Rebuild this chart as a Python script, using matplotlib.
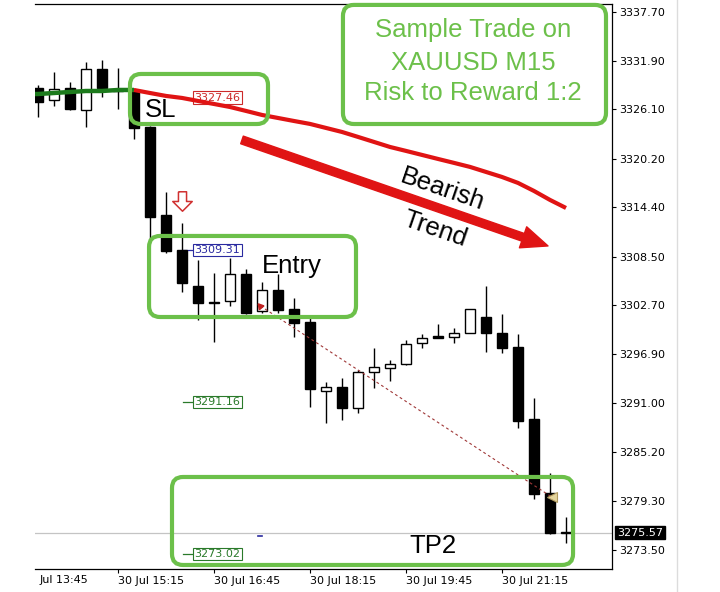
import matplotlib
matplotlib.use("Agg")
import matplotlib.pyplot as plt
import matplotlib.transforms as mtransforms
from matplotlib.patches import FancyBboxPatch, FancyArrowPatch
from matplotlib.path import Path
from matplotlib.lines import Line2D
import numpy as np

# ── chart data (XAUUSD M15, 30 Jul) ─────────────────────────────────────────
# bar 0 is 30 Jul 13:45, one bar per 15 minutes
bar_index = list(range(1, 35))
opens = [3328.63, 3327.20, 3328.63, 3326.01, 3330.90, 3328.27, 3328.39, 3323.98,
         3313.48, 3309.30, 3305.00, 3302.97, 3303.21, 3306.43, 3302.02, 3304.53,
         3302.26, 3300.71, 3292.47, 3292.95, 3290.44, 3294.74, 3295.22, 3295.70,
         3298.20, 3299.00, 3298.92, 3299.39, 3301.30, 3299.39, 3297.72, 3289.13,
         3280.30, 3275.57]
highs = [3328.99, 3330.54, 3329.35, 3331.73, 3331.97, 3331.02, 3328.63, 3324.10,
         3316.22, 3312.52, 3308.11, 3306.55, 3308.34, 3307.03, 3305.48, 3306.43,
         3303.57, 3301.18, 3293.55, 3294.02, 3294.98, 3297.60, 3296.17, 3298.56,
         3299.28, 3300.47, 3299.99, 3302.26, 3305.00, 3301.66, 3299.28, 3291.64,
         3282.69, 3277.44]
lows = [3325.17, 3326.48, 3326.05, 3323.98, 3327.56, 3326.12, 3322.54, 3310.49,
        3308.94, 3304.29, 3300.95, 3298.32, 3302.62, 3301.70, 3301.78, 3301.78,
        3298.92, 3290.56, 3288.65, 3289.01, 3289.85, 3292.83, 3293.67, 3295.58,
        3297.60, 3298.80, 3298.20, 3299.39, 3297.13, 3297.01, 3288.06, 3279.59,
        3275.41, 3274.33]
closes = [3326.96, 3328.51, 3326.12, 3330.90, 3328.63, 3328.39, 3323.86, 3313.24,
          3309.18, 3305.36, 3302.97, 3303.09, 3306.43, 3301.78, 3304.53, 3302.14,
          3300.59, 3292.71, 3292.95, 3290.44, 3294.74, 3295.34, 3295.70, 3298.08,
          3298.80, 3298.80, 3299.39, 3302.26, 3299.39, 3297.60, 3288.89, 3280.18,
          3275.50, 3275.57]

ma_index = list(range(0, 35))
ma_values = [3327.91, 3327.91, 3328.03, 3328.15, 3328.27, 3328.27, 3328.39, 3328.39,
             3328.03, 3327.68, 3327.44, 3327.08, 3326.72, 3326.36, 3325.89, 3325.41,
             3325.05, 3324.69, 3324.34, 3323.86, 3323.38, 3322.79, 3322.19, 3321.59,
             3321.12, 3320.64, 3320.16, 3319.69, 3319.21, 3318.61, 3318.01, 3317.30,
             3316.34, 3315.27, 3314.31]
ma_turn = 7  # MA colour changes from green to red at this bar

price_ticks = [3337.70, 3331.90, 3326.10, 3320.20, 3314.40, 3308.50, 3302.70,
               3296.90, 3291.00, 3285.20, 3279.30, 3273.50]
time_ticks = [6, 12, 18, 24, 30]
time_labels = ["30 Jul 15:15", "30 Jul 16:45", "30 Jul 18:15", "30 Jul 19:45",
               "30 Jul 21:15"]
first_time_label = "Jul 13:45"

sl_price = 3327.46
entry_price = 3309.31
tp1_price = 3291.16
tp2_price = 3273.02
bid_price = 3275.57

signal_bar, signal_price = 10, 3315.15
trade_open = (14.9, 3302.62)
trade_close = (33.1, 3279.83)

GREEN = "#6cc04a"
RED = "#e01414"
LABEL_FONT = ["Liberation Sans", "DejaVu Sans"]


def rounded_box(fig, ax, x0, y0, x1, y1):
    (px0, py0), (px1, py1) = ax.transData.transform([(x0, y0), (x1, y1)])
    box = FancyBboxPatch(
        (px0, min(py0, py1)), px1 - px0, abs(py1 - py0),
        boxstyle="round,pad=0,rounding_size=11",
        fc="none", ec=GREEN, lw=3.0,
        transform=mtransforms.IdentityTransform(),
    )
    fig.add_artist(box)


def level_label(ax, price, text, color):
    ax.plot([10.06, 10.7], [price, price], color=color, lw=0.9)
    ax.text(10.78, price, text, color=color, fontsize=8, ha="left", va="center",
            bbox=dict(boxstyle="square,pad=0.12", fc="white", ec=color, lw=0.8))


fig = plt.figure(figsize=(7.2, 5.92), dpi=100)
ax = fig.add_axes([35 / 720, 1 - 569 / 592, 577 / 720, 565 / 592])
ax.set_xlim(0.8125, 36.875)
ax.set_ylim(3271.23, 3338.65)

# ── candles ────────────────────────────────────────────────────────────────
o = np.array(opens)
c = np.array(closes)
x = np.array(bar_index)
ax.vlines(x, lows, highs, color="black", lw=1.0, zorder=2)
body_low = np.minimum(o, c)
body_h = np.maximum(np.abs(c - o), 0.12)
up = c >= o
ax.bar(x[up], body_h[up], bottom=body_low[up], width=0.62, color="white",
       edgecolor="black", lw=1.0, zorder=3)
ax.bar(x[~up], body_h[~up], bottom=body_low[~up], width=0.62, color="black",
       edgecolor="black", lw=1.0, zorder=3)

# ── moving average ─────────────────────────────────────────────────────────
ax.plot(ma_index[:ma_turn + 1], ma_values[:ma_turn + 1], color="#1c7a1c", lw=3.2,
        zorder=4, solid_capstyle="butt")
ax.plot(ma_index[ma_turn:], ma_values[ma_turn:], color=RED, lw=3.0, zorder=4,
        solid_capstyle="butt")

# ── trade objects ──────────────────────────────────────────────────────────
ax.axhline(bid_price, color="#c4c4c4", lw=0.9, zorder=1)
level_label(ax, sl_price, f"{sl_price:.2f}", "#cc2a2a")
level_label(ax, entry_price, f"{entry_price:.2f}", "#2a2aa0")
level_label(ax, tp1_price, f"{tp1_price:.2f}", "#2a7a2a")
level_label(ax, tp2_price, f"{tp2_price:.2f}", "#2a7a2a")
ax.plot([14.75, 15.0], [3275.17, 3275.17], color="#2a2aa0", lw=1.2)

ax.plot([trade_open[0], trade_close[0]], [trade_open[1], trade_close[1]],
        color="#a03838", lw=0.8, linestyle=(0, (2.5, 2.5)), zorder=5)
ax.plot(*trade_open, marker=(3, 0, 40), ms=5, color="#c02020", zorder=6)
ax.plot(*trade_close, marker="<", ms=7, mfc="#e4d49c", mec="#b09a60", mew=0.8,
        zorder=6)

arrow_verts = [(-0.25, 0.6), (0.25, 0.6), (0.25, 0.0), (0.6, 0.0), (0.0, -0.6),
               (-0.6, 0.0), (-0.25, 0.0), (-0.25, 0.6)]
ax.plot(signal_bar, signal_price, marker=Path(arrow_verts), ms=14, mfc="white",
        mec="#d03030", mew=1.1, zorder=6)

# ── annotations ────────────────────────────────────────────────────────────
rounded_box(fig, ax, 6.75, 3330.30, 15.375, 3324.33)
rounded_box(fig, ax, 20.06, 3338.54, 36.5, 3324.33)
rounded_box(fig, ax, 7.94, 3310.97, 20.875, 3301.30)
rounded_box(fig, ax, 9.375, 3282.21, 34.44, 3271.71)

ax.text(7.69, 3325.17, "SL", fontsize=18.5, family=LABEL_FONT, va="baseline",
        zorder=7)
ax.text(15.0, 3306.55, "Entry", fontsize=18.5, family=LABEL_FONT, va="baseline",
        zorder=7)
ax.text(24.19, 3273.14, "TP2", fontsize=18.5, family=LABEL_FONT, va="baseline",
        zorder=7)
for line, price in zip(["Sample Trade on", "XAUUSD M15", "Risk to Reward 1:2"],
                       [3335.55, 3331.61, 3328.03]):
    ax.text(28.19, price, line, fontsize=18.5, family=LABEL_FONT, color=GREEN,
            ha="center", va="center")

ax.add_patch(FancyArrowPatch(
    (13.75, 3322.43), (32.875, 3309.78),
    arrowstyle="simple,head_length=1.9,head_width=1.6,tail_width=0.58",
    mutation_scale=10, color=RED, shrinkA=0, shrinkB=0, zorder=6,
))
ax.text(26.25, 3316.5, "Bearish", fontsize=18.5, family=LABEL_FONT,
        rotation=-19, rotation_mode="anchor", ha="center", va="center", zorder=7)
ax.text(25.8, 3311.75, "Trend", fontsize=18.5, family=LABEL_FONT,
        rotation=-19, rotation_mode="anchor", ha="center", va="center", zorder=7)

# ── axes styling ───────────────────────────────────────────────────────────
ax.spines["left"].set_visible(False)
for side in ("top", "right", "bottom"):
    ax.spines[side].set_linewidth(0.9)
ax.yaxis.tick_right()
ax.set_yticks(price_ticks, [f"{p:.2f}" for p in price_ticks])
ax.set_xticks(time_ticks, time_labels)
for lbl in ax.get_xticklabels():
    lbl.set_horizontalalignment("left")
ax.tick_params(axis="y", direction="out", length=3, width=0.8, pad=2,
               labelsize=8)
ax.tick_params(axis="x", direction="out", length=3, width=0.8, pad=2,
               labelsize=8)
ax.annotate(first_time_label, xy=(0, 0), xycoords="axes fraction",
            xytext=(3.5, -4.2), textcoords="offset points", fontsize=8,
            ha="left", va="top")

blend = mtransforms.blended_transform_factory(ax.transAxes, ax.transData)
ax.annotate(f"{bid_price:.2f}", xy=(1, bid_price), xycoords=blend,
            xytext=(3.5, 0), textcoords="offset points", fontsize=8,
            color="white", ha="left", va="center",
            bbox=dict(boxstyle="square,pad=0.15", fc="black", ec="black"))

fig.add_artist(Line2D([677 / 720, 677 / 720], [0, 1], color="#dcdcdc", lw=1,
                      transform=fig.transFigure))

fig.savefig("out.png", dpi=100)
